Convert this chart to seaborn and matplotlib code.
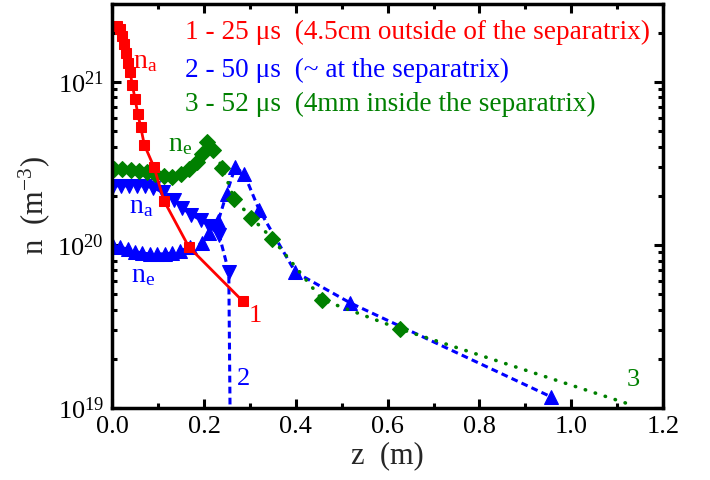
import numpy as np
import pandas as pd
import matplotlib
matplotlib.use("Agg")
import matplotlib.pyplot as plt
import seaborn as sns

# curve 1 - 25 us, neutral density (red squares, solid)
z1 = [0.004, 0.010, 0.016, 0.021, 0.025, 0.030, 0.034, 0.039, 0.044, 0.050,
      0.056, 0.062, 0.070, 0.091, 0.113, 0.167, 0.285]
n1 = [2.2e21, 2.2e21, 2.1e21, 1.9e21, 1.7e21, 1.5e21, 1.3e21, 1.15e21, 9.5e20, 7.8e20,
      6.3e20, 5.3e20, 4.1e20, 3.0e20, 1.86e20, 9.7e19, 4.5e19]

# curve 2 - 50 us, neutral density (blue down triangles, dashed)
z2a = [0.002, 0.020, 0.037, 0.054, 0.072, 0.089, 0.111, 0.135, 0.152, 0.172,
       0.193, 0.211, 0.233, 0.254, 0.257]
n2a = [2.3e20, 2.3e20, 2.3e20, 2.3e20, 2.3e20, 2.24e20, 2.1e20, 1.89e20, 1.69e20, 1.53e20,
       1.42e20, 1.31e20, 1.15e20, 6.8e19, 8e18]

# curve 2 - 50 us, electron density (blue up triangles, dashed)
z2e = [0.002, 0.018, 0.034, 0.050, 0.066, 0.082, 0.098, 0.114, 0.130, 0.148,
       0.170, 0.196, 0.211, 0.231, 0.249, 0.268, 0.288, 0.320, 0.399, 0.519, 0.956]
n2e = [9.8e19, 9.7e19, 9.4e19, 9.1e19, 8.9e19, 8.8e19, 8.8e19, 8.8e19, 8.9e19, 9.2e19,
       9.7e19, 1.02e20, 1.18e20, 1.4e20, 2.05e20, 3.0e20, 2.7e20, 1.64e20, 6.8e19, 4.4e19, 1.17e19]

# curve 3 - 52 us, electron density (green diamonds, dotted)
z3 = [0.004, 0.022, 0.040, 0.058, 0.076, 0.094, 0.112, 0.130, 0.150, 0.168,
      0.185, 0.196, 0.207, 0.220, 0.240, 0.266, 0.303, 0.349, 0.458, 0.627, 1.133]
n3 = [2.92e20, 2.92e20, 2.88e20, 2.84e20, 2.8e20, 2.72e20, 2.65e20, 2.61e20, 2.73e20, 2.92e20,
      3.2e20, 3.6e20, 4.28e20, 3.83e20, 2.97e20, 1.91e20, 1.47e20, 1.09e20, 4.6e19, 3.05e19, 1.04e19]

xticks = [0.0, 0.2, 0.4, 0.6, 0.8, 1.0, 1.2]

RED = "#ff0000"
BLUE = "#0000ff"
GREEN = "#008000"

sns.set_theme(style="ticks")
plt.rcParams["font.family"] = ["Liberation Serif", "DejaVu Serif"]
plt.rcParams["mathtext.fontset"] = "custom"
plt.rcParams["mathtext.rm"] = "Liberation Serif"
plt.rcParams["mathtext.it"] = "Liberation Serif:italic"
plt.rcParams["mathtext.default"] = "regular"

fig = plt.figure(figsize=(7.1, 4.8), dpi=100)
ax = fig.add_axes([0.158, 0.15, 0.776, 0.842])

dash = (0, (2.2, 1.4))
dots = (0, (0.1, 2.8))

df2a = pd.DataFrame({"z": z2a, "n": n2a})
sns.lineplot(data=df2a, x="z", y="n", ax=ax, color=BLUE, lw=2.2, linestyle=dash,
             marker="v", ms=10, mec=BLUE, markevery=list(range(len(z2a) - 1)),
             estimator=None, sort=False)

df2e = pd.DataFrame({"z": z2e, "n": n2e})
sns.lineplot(data=df2e, x="z", y="n", ax=ax, color=BLUE, lw=2.2, linestyle=dash,
             marker="^", ms=10, mec=BLUE, estimator=None, sort=False)

df3 = pd.DataFrame({"z": z3, "n": n3})
sns.lineplot(data=df3, x="z", y="n", ax=ax, color=GREEN, lw=2.6, linestyle=dots,
             dash_capstyle="round", marker="D", ms=8, mec=GREEN,
             markevery=list(range(len(z3) - 1)), estimator=None, sort=False)

df1 = pd.DataFrame({"z": z1, "n": n1})
sns.lineplot(data=df1, x="z", y="n", ax=ax, color=RED, lw=2.0, marker="s", ms=7.5,
             mec=RED, estimator=None, sort=False)

ax.set_yscale("log")
ax.set_xlim(0, 1.2)
ax.set_ylim(1e19, 3e21)
ax.set_xticks(xticks)
ax.set_xticklabels([f"{t:.1f}" for t in xticks])
ax.xaxis.set_minor_locator(matplotlib.ticker.MultipleLocator(0.1))
ax.yaxis.set_minor_formatter(matplotlib.ticker.NullFormatter())

for s in ax.spines.values():
    s.set_linewidth(2.5)
    s.set_color("black")
ax.tick_params(which="both", direction="in", top=True, right=True, width=2.2, colors="black")
ax.tick_params(which="major", length=6.5, labelsize=19, pad=6)
ax.tick_params(which="minor", length=3.8)

ax.set_xlabel("z  (m)", fontsize=22, labelpad=2)
ax.set_ylabel("n  (m$^{-3}$)", fontsize=22, labelpad=4)

# legend-like text block
fs = 19.6
ax.text(0.158, 2.0e21, "1 - 25 \u03bcs  (4.5cm outside of the separatrix)", color=RED,
        fontsize=fs, va="center")
ax.text(0.158, 1.18e21, "2 - 50 \u03bcs  (~ at the separatrix)", color=BLUE,
        fontsize=fs, va="center")
ax.text(0.158, 7.3e20, "3 - 52 \u03bcs  (4mm inside the separatrix)", color=GREEN,
        fontsize=fs, va="center")

# curve labels
ax.text(0.046, 1.33e21, "n$_{a}$", color=RED, fontsize=20, va="center")
ax.text(0.122, 4.1e20, "n$_{e}$", color=GREEN, fontsize=20, va="center")
ax.text(0.037, 1.71e20, "n$_{a}$", color=BLUE, fontsize=20, va="center")
ax.text(0.041, 6.5e19, "n$_{e}$", color=BLUE, fontsize=20, va="center")
ax.text(0.312, 3.66e19, "1", color=RED, fontsize=19, ha="center", va="center")
ax.text(0.285, 1.5e19, "2", color=BLUE, fontsize=19, ha="center", va="center")
ax.text(1.135, 1.48e19, "3", color=GREEN, fontsize=19, ha="center", va="center")

fig.savefig("out.png", dpi=100)
